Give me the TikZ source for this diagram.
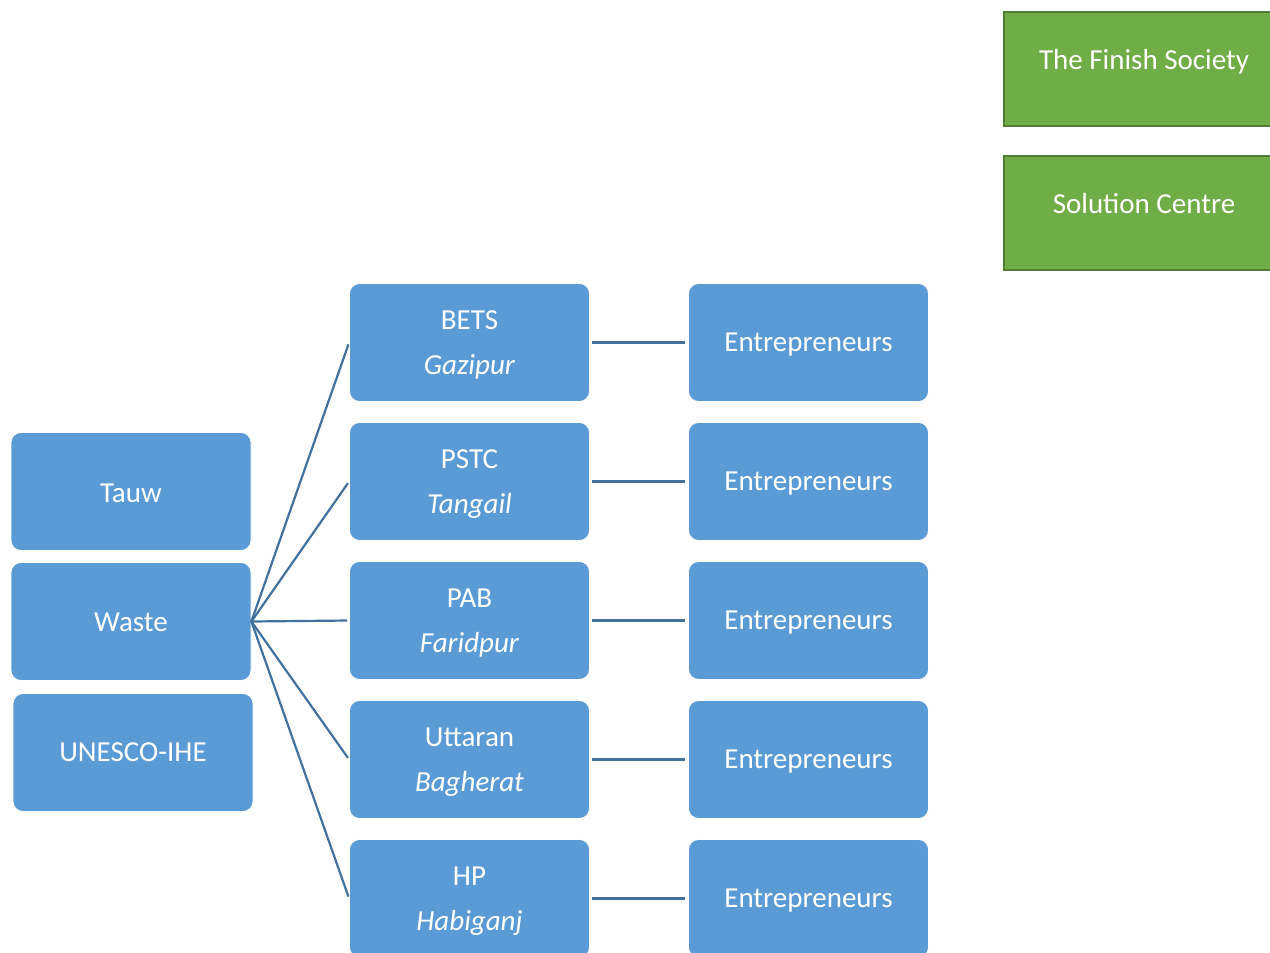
\documentclass[tikz,border=0pt]{standalone}
\usepackage{fontspec}
\setmainfont{Carlito}
% a single label, lowered a little without changing its box
\newcommand\lowered[2]{\raisebox{#1}[\height][\depth]{#2}}
% a name over an italic place name, 45pt apart
\newcommand\twoline[2]{\begin{tabular}{@{}c@{}}#1\\\textit{#2}\end{tabular}}
\begin{document}
\begin{tikzpicture}[x=1pt,y=-1pt,
  bluebox/.style={rectangle, rounded corners=10pt, fill=boxblue, draw=white, line width=0.8pt,
    minimum width=240pt, minimum height=118pt, text=white,
    font=\fontsize{29}{45}\selectfont, inner sep=0pt},
  greenbox/.style={rectangle, fill=boxgreen, draw=greenedge, line width=2pt,
    minimum width=280pt, minimum height=114pt, text=white,
    font=\fontsize{29}{35}\selectfont, inner sep=0pt},
  link/.style={draw=linkblue, line width=2.2pt}]
\definecolor{boxblue}{HTML}{5B9BD5}
\definecolor{boxgreen}{HTML}{70AD47}
\definecolor{greenedge}{HTML}{507E32}
\definecolor{linkblue}{HTML}{41719C}
\useasboundingbox (0,0) rectangle (1270,953);
\clip (0,0) rectangle (1270,953);

% partner boxes, top right
\node[greenbox] (finish) at (1144,69) {\lowered{7.5pt}{The Finish Society}};
\node[greenbox] (solution) at (1144,212.5) {\lowered{8.5pt}{Solution Centre}};

% left column
\node[bluebox] (tauw) at (131,491.5) {\lowered{-1.5pt}{Tauw}};
\node[bluebox] (waste) at (131,621.5) {\lowered{-1pt}{Waste}};
\node[bluebox] (unesco) at (133,752.5) {UNESCO-IHE};

% regional partners
\node[bluebox] (bets) at (469.5,342.5) {\twoline{BETS}{Gazipur}};
\node[bluebox] (pstc) at (469.5,481.5) {\twoline{PSTC}{Tangail}};
\node[bluebox] (pab) at (469.5,620.5) {\twoline{PAB}{Faridpur}};
\node[bluebox] (uttaran) at (469.5,759.5) {\twoline{Uttaran}{Bagherat}};
\node[bluebox] (hp) at (469.5,898.5) {\twoline{HP}{Habiganj}};

% entrepreneurs
\node[bluebox] (e1) at (808.5,342.5) {\lowered{-2pt}{Entrepreneurs}};
\node[bluebox] (e2) at (808.5,481.5) {\lowered{-2pt}{Entrepreneurs}};
\node[bluebox] (e3) at (808.5,620.5) {\lowered{-2pt}{Entrepreneurs}};
\node[bluebox] (e4) at (808.5,759.5) {\lowered{-2pt}{Entrepreneurs}};
\node[bluebox] (e5) at (808.5,898.5) {\lowered{-2pt}{Entrepreneurs}};

% connectors
\foreach \m in {bets,pstc,pab,uttaran,hp}
  \draw[link, shorten >=2pt, shorten <=-1pt] (waste.east) -- (\m.west);
\foreach \m/\e in {bets/e1,pstc/e2,pab/e3,uttaran/e4,hp/e5}
  \draw[link, shorten >=3pt, shorten <=2pt] (\m.east) -- (\e.west);
\end{tikzpicture}
\end{document}
